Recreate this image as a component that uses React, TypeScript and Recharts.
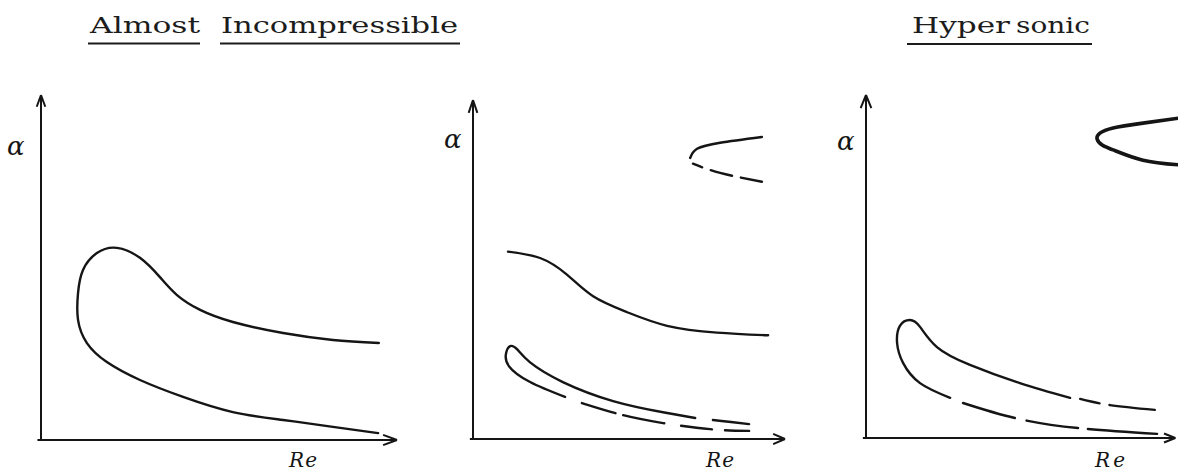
import React from "react";
import { LineChart, Line, XAxis, YAxis, ReferenceLine } from "recharts";

type Pt = { re: number; a: number };

const INK = "#151515";

// --- Almost incompressible: single closed-nose neutral curve ---
const incompLoop: Pt[] = [
  { re: 94.9, a: 28.1 }, { re: 82.0, a: 29.0 }, { re: 68.0, a: 31.0 }, { re: 53.9, a: 34.2 },
  { re: 44.7, a: 37.7 }, { re: 38.2, a: 42.0 }, { re: 33.4, a: 47.2 }, { re: 27.8, a: 52.8 },
  { re: 21.3, a: 55.7 }, { re: 15.7, a: 54.2 }, { re: 11.8, a: 49.3 }, { re: 10.4, a: 42.6 },
  { re: 10.4, a: 34.8 }, { re: 12.9, a: 28.1 }, { re: 18.5, a: 22.6 }, { re: 27.8, a: 17.4 },
  { re: 39.9, a: 12.5 }, { re: 53.9, a: 8.1 }, { re: 68.0, a: 5.8 }, { re: 82.0, a: 3.8 },
  { re: 94.7, a: 2.0 },
];

// --- intermediate case ---
const midUpperSolid: Pt[] = [
  { re: 69.6, a: 82.9 }, { re: 71.8, a: 85.6 }, { re: 79.2, a: 87.4 }, { re: 92.6, a: 89.1 },
];
const midUpperDashed: Pt[] = [
  { re: 70.5, a: 81.2 }, { re: 79.2, a: 78.5 }, { re: 92.6, a: 75.9 },
];
const midMiddle: Pt[] = [
  { re: 11.2, a: 55.3 }, { re: 21.5, a: 53.4 }, { re: 30.1, a: 48.5 }, { re: 38.5, a: 42.1 },
  { re: 49.4, a: 37.4 }, { re: 62.2, a: 33.4 }, { re: 78.2, a: 31.4 }, { re: 94.6, a: 30.6 },
];
const midLowerSolid: Pt[] = [
  { re: 71.2, a: 6.2 }, { re: 60.9, a: 7.9 }, { re: 44.9, a: 11.2 }, { re: 28.8, a: 16.8 },
  { re: 18.3, a: 22.6 }, { re: 14.1, a: 26.5 }, { re: 11.9, a: 27.4 }, { re: 10.6, a: 25.3 },
  { re: 11.5, a: 21.5 }, { re: 18.3, a: 16.8 }, { re: 29.5, a: 12.4 },
];
const midLowerTopDash: Pt[] = [
  { re: 76.9, a: 5.6 }, { re: 82.7, a: 5.0 }, { re: 88.5, a: 4.4 },
];
const midLowerBottomDashed: Pt[] = [
  { re: 34.9, a: 10.6 }, { re: 47.8, a: 7.1 }, { re: 60.9, a: 4.7 }, { re: 76.0, a: 2.9 },
  { re: 88.5, a: 2.4 },
];

// --- hypersonic ---
const hypUpperLoop: Pt[] = [
  { re: 100, a: 93.3 }, { re: 88.2, a: 91.8 }, { re: 78.7, a: 90.4 }, { re: 74.5, a: 88.9 },
  { re: 73.6, a: 87.2 }, { re: 75.2, a: 85.4 }, { re: 78.7, a: 84.0 }, { re: 88.2, a: 81.0 },
  { re: 100, a: 79.6 },
];
const hypLowerSolid: Pt[] = [
  { re: 65.0, a: 11.7 }, { re: 49.0, a: 16.0 }, { re: 33.1, a: 21.3 }, { re: 22.6, a: 26.5 },
  { re: 17.2, a: 32.4 }, { re: 14.0, a: 34.4 }, { re: 10.8, a: 32.7 }, { re: 9.9, a: 27.7 },
  { re: 11.8, a: 21.9 }, { re: 17.2, a: 16.0 }, { re: 26.8, a: 11.7 },
];
const hypLowerTopDashed: Pt[] = [
  { re: 68.2, a: 11.4 }, { re: 77.7, a: 9.6 }, { re: 92.0, a: 8.2 },
];
const hypLowerBottomDashed: Pt[] = [
  { re: 30.9, a: 10.2 }, { re: 47.5, a: 5.8 }, { re: 67.5, a: 2.9 }, { re: 92.7, a: 1.2 },
];

type Curve = { data: Pt[]; w: number; dash?: string };

type PanelProps = {
  left: number;
  width: number;
  margin: { top: number; right: number; bottom: number; left: number };
  curves: Curve[];
  xEnd: number;
  // arrowhead half-width / length in axis units
  yHead: [number, number];
  xHead: [number, number];
};

const Panel = ({ left, width, margin, curves, xEnd, yHead, xHead }: PanelProps) => {
  const axis = { stroke: INK, strokeWidth: 2, ifOverflow: "visible" as const };
  return (
    <div style={{ position: "absolute", left, top: 0 }}>
      <LineChart width={width} height={474} margin={margin}>
        <XAxis type="number" dataKey="re" domain={[0, 100]} hide />
        <YAxis type="number" dataKey="a" domain={[0, 100]} hide />
        <ReferenceLine segment={[{ x: -1, y: 0 }, { x: xEnd, y: 0 }]} {...axis} />
        <ReferenceLine segment={[{ x: 0, y: 0 }, { x: 0, y: 100 }]} {...axis} />
        <ReferenceLine segment={[{ x: -yHead[0], y: 100 - yHead[1] }, { x: 0, y: 100 }]} {...axis} />
        <ReferenceLine segment={[{ x: yHead[0], y: 100 - yHead[1] }, { x: 0, y: 100 }]} {...axis} />
        <ReferenceLine segment={[{ x: xEnd - xHead[1], y: xHead[0] }, { x: xEnd, y: 0 }]} {...axis} />
        <ReferenceLine segment={[{ x: xEnd - xHead[1], y: -xHead[0] }, { x: xEnd, y: 0 }]} {...axis} />
        {curves.map((c, i) => (
          <Line
            key={i}
            data={c.data}
            dataKey="a"
            type="natural"
            stroke={INK}
            strokeWidth={c.w}
            strokeDasharray={c.dash}
            strokeLinecap="round"
            dot={false}
            activeDot={false}
            isAnimationActive={false}
          />
        ))}
      </LineChart>
    </div>
  );
};

const serif = "'DejaVu Serif', serif";

export default function App() {
  return (
    <div
      style={{
        position: "absolute",
        left: 0,
        top: 0,
        width: 1178,
        height: 474,
        overflow: "hidden",
        background: "#fff",
      }}
    >
      <Panel
        left={0}
        width={420}
        margin={{ top: 95, right: 23, bottom: 34, left: 41 }}
        curves={[{ data: incompLoop, w: 2.4 }]}
        xEnd={100}
        yHead={[1.2, 3.4]}
        xHead={[1.5, 3.9]}
      />
      <Panel
        left={430}
        width={370}
        margin={{ top: 100, right: 15, bottom: 35, left: 43 }}
        curves={[
          { data: midUpperSolid, w: 2.4 },
          { data: midUpperDashed, w: 2.4, dash: "10 9 22 9 22 9" },
          { data: midMiddle, w: 2.3 },
          { data: midLowerSolid, w: 2.4 },
          { data: midLowerTopDash, w: 2.4 },
          { data: midLowerBottomDashed, w: 2.4, dash: "35 8 42 17 31 13 26 10" },
        ]}
        xEnd={100}
        yHead={[1.4, 3.8]}
        xHead={[1.5, 3.8]}
      />
      <Panel
        left={820}
        width={380}
        margin={{ top: 95, right: 20, bottom: 36, left: 46 }}
        curves={[
          { data: hypUpperLoop, w: 3.6 },
          { data: hypLowerSolid, w: 2.4 },
          { data: hypLowerTopDashed, w: 2.4, dash: "20 10 46 10" },
          { data: hypLowerBottomDashed, w: 2.4, dash: "54 12 52 10 72 10" },
        ]}
        xEnd={98.5}
        yHead={[1.7, 3.8]}
        xHead={[1.3, 3.6]}
      />
      <svg
        width={1178}
        height={474}
        style={{ position: "absolute", left: 0, top: 0, pointerEvents: "none" }}
      >
        <g fontFamily={serif} fontSize={22} fill="#1c1c1c">
          <text x={90} y={33} textLength={110} lengthAdjust="spacingAndGlyphs">Almost</text>
          <text x={221} y={33} textLength={237} lengthAdjust="spacingAndGlyphs">Incompressible</text>
          <text x={912} y={33} textLength={98} lengthAdjust="spacingAndGlyphs">Hyper</text>
          <text x={1016} y={33} textLength={74} lengthAdjust="spacingAndGlyphs">sonic</text>
        </g>
        <g stroke="#1c1c1c" strokeWidth={2}>
          <line x1={88} y1={43.5} x2={200} y2={43.5} />
          <line x1={220} y1={43.5} x2={460} y2={43.5} />
          <line x1={907} y1={44} x2={1092} y2={44} />
        </g>
        <g fontFamily={serif} fontStyle="italic" fill={INK}>
          <text x={7} y={155} fontSize={26}>α</text>
          <text x={444} y={148} fontSize={26}>α</text>
          <text x={837} y={150} fontSize={26}>α</text>
          <text x={289} y={467} fontSize={20} textLength={28}>Re</text>
          <text x={706} y={467} fontSize={20} textLength={28}>Re</text>
          <text x={1095} y={467} fontSize={20} textLength={30}>Re</text>
        </g>
      </svg>
    </div>
  );
}
